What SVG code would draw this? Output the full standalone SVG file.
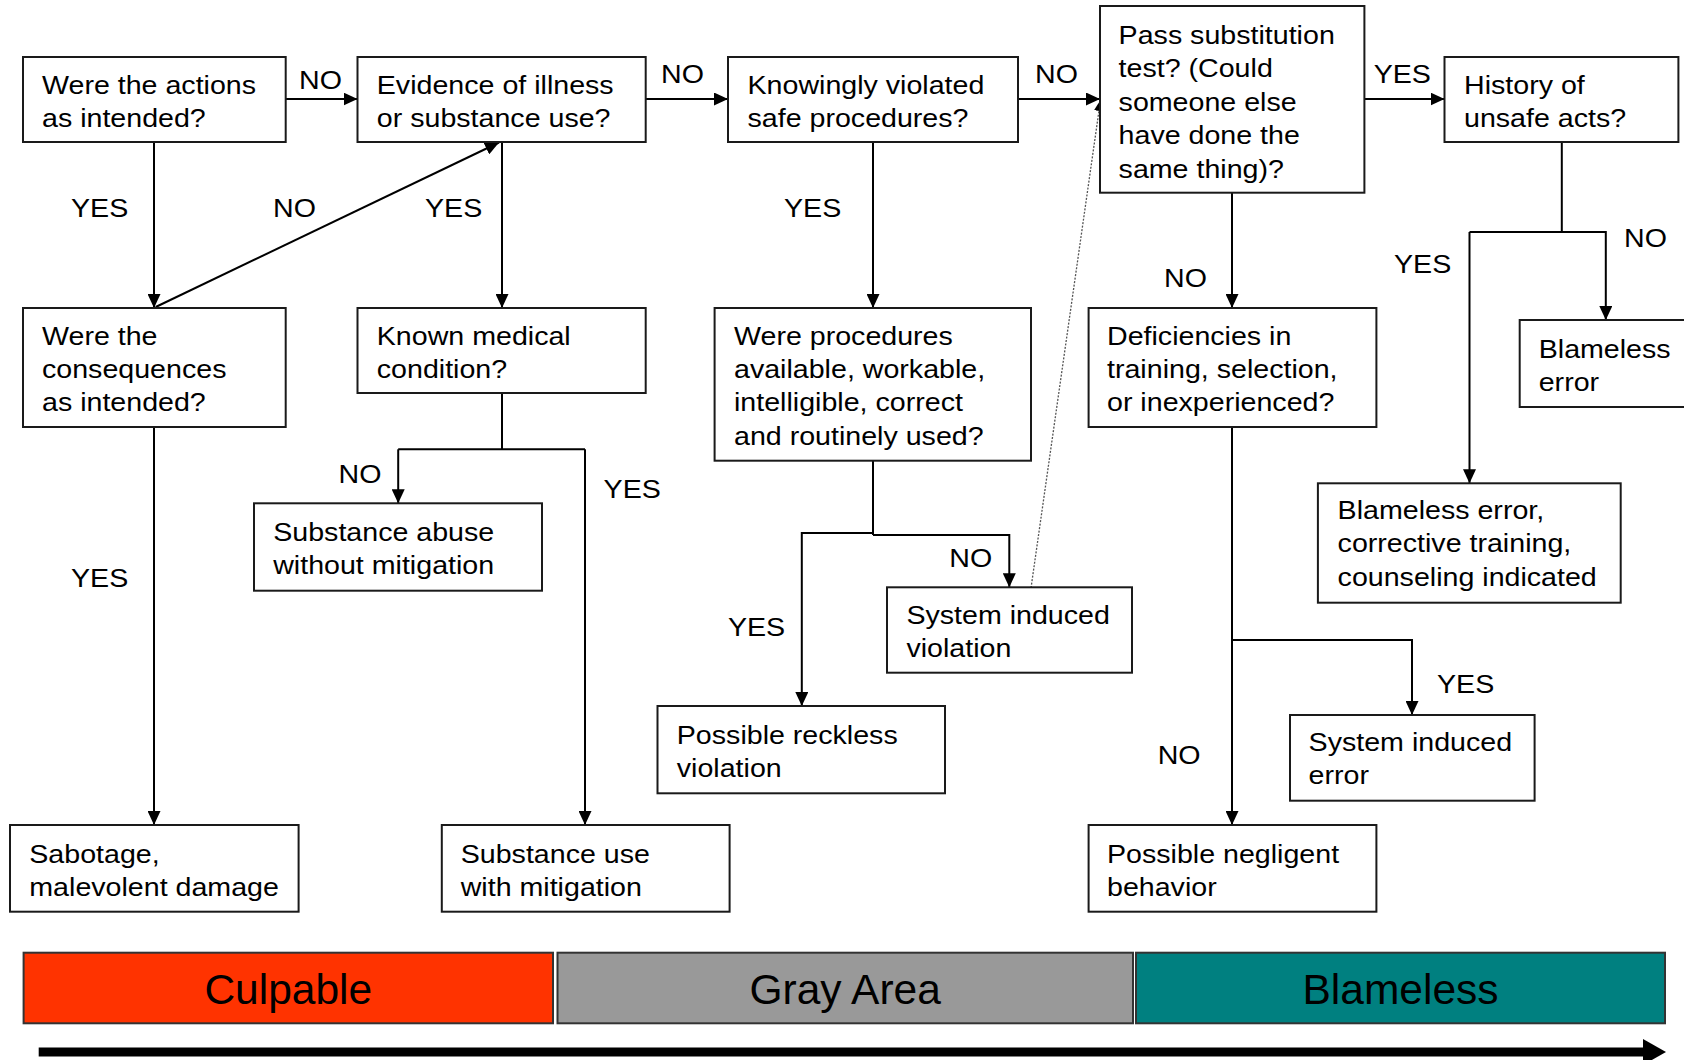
<svg xmlns="http://www.w3.org/2000/svg" width="1684" height="1060" viewBox="0 0 1684 1060">
<style>
.box{fill:#fff;stroke:#1a1a1a;stroke-width:2}
.t{font-family:"Liberation Sans",Arial,sans-serif;font-size:26px;fill:#000}
.c{fill:none;stroke:#000;stroke-width:2}
.big{font-family:"Liberation Sans",Arial,sans-serif;font-size:42.5px;fill:#000;text-anchor:middle}
.band{stroke:#333;stroke-width:2}
</style>
<defs>
<marker id="ah" markerUnits="userSpaceOnUse" markerWidth="14" markerHeight="13" refX="14" refY="6.5" orient="auto">
<path d="M0,0 L14,6.5 L0,13 z" fill="#000"/>
</marker>
<marker id="ahs" markerUnits="userSpaceOnUse" markerWidth="11" markerHeight="10" refX="11" refY="5" orient="auto">
<path d="M0,0 L11,5 L0,10 z" fill="#000"/>
</marker>
</defs>
<rect width="1684" height="1060" fill="#fff"/>

<g id="connectors">
<path class="c" d="M285.7,99 H357.5" marker-end="url(#ah)"/>
<path class="c" d="M645.7,99 H728" marker-end="url(#ah)"/>
<path class="c" d="M1018,99 H1100" marker-end="url(#ah)"/>
<path class="c" d="M1364.4,99 H1444.5" marker-end="url(#ah)"/>
<path class="c" d="M154,142 V308" marker-end="url(#ah)"/>
<path class="c" d="M155.7,307 L499,142.5" marker-end="url(#ah)"/>
<path class="c" d="M502,142 V308" marker-end="url(#ah)"/>
<path class="c" d="M873,142 V308" marker-end="url(#ah)"/>
<path class="c" d="M1232,193 V308" marker-end="url(#ah)"/>
<path class="c" d="M1561.8,142 V232"/>
<path class="c" d="M1469.5,232 V483.3" marker-end="url(#ah)"/>
<path class="c" d="M1469.5,232 H1605.8 V320" marker-end="url(#ah)"/>
<path class="c" d="M154,427 V825" marker-end="url(#ah)"/>
<path class="c" d="M502,393 V449.3"/>
<path class="c" d="M398.2,449.3 H585"/>
<path class="c" d="M398.2,449.3 V503.3" marker-end="url(#ah)"/>
<path class="c" d="M585,449.3 V825" marker-end="url(#ah)"/>
<path class="c" d="M873,460.7 V535"/>
<path class="c" d="M873,533 H801.8 V706" marker-end="url(#ah)"/>
<path class="c" d="M873,535 H1009.3 V587.3" marker-end="url(#ah)"/>
<path class="c" d="M1232,427 V825" marker-end="url(#ah)"/>
<path class="c" d="M1232,640 H1412 V715" marker-end="url(#ah)"/>
<path d="M1031,588 L1100.5,100" fill="none" stroke="#555" stroke-width="1.3" stroke-dasharray="2,1.5" marker-end="url(#ahs)"/>
</g>

<g id="labels">
<text class="t" transform="translate(299 89) scale(1.1 1)">NO</text>
<text class="t" transform="translate(661 83) scale(1.1 1)">NO</text>
<text class="t" transform="translate(1035 83) scale(1.1 1)">NO</text>
<text class="t" transform="translate(1373.7 83) scale(1.1 1)">YES</text>
<text class="t" transform="translate(71 216.7) scale(1.1 1)">YES</text>
<text class="t" transform="translate(273 216.7) scale(1.1 1)">NO</text>
<text class="t" transform="translate(425 216.7) scale(1.1 1)">YES</text>
<text class="t" transform="translate(784 216.7) scale(1.1 1)">YES</text>
<text class="t" transform="translate(1164 287) scale(1.1 1)">NO</text>
<text class="t" transform="translate(1394 273) scale(1.1 1)">YES</text>
<text class="t" transform="translate(1624 247) scale(1.1 1)">NO</text>
<text class="t" transform="translate(338.6 483) scale(1.1 1)">NO</text>
<text class="t" transform="translate(603.6 497.7) scale(1.1 1)">YES</text>
<text class="t" transform="translate(71 586.7) scale(1.1 1)">YES</text>
<text class="t" transform="translate(949.3 567.3) scale(1.1 1)">NO</text>
<text class="t" transform="translate(727.9 636) scale(1.1 1)">YES</text>
<text class="t" transform="translate(1437 693) scale(1.1 1)">YES</text>
<text class="t" transform="translate(1157.7 764) scale(1.1 1)">NO</text>
</g>

<g id="nodeA">
<rect class="box" x="23" y="57" width="262.7" height="85"/>
<text class="t" transform="translate(42 94) scale(1.1 1)"><tspan x="0" y="0">Were the actions</tspan><tspan x="0" y="33.5">as intended?</tspan></text>
</g>
<g id="nodeB">
<rect class="box" x="357.5" y="57" width="288.2" height="85"/>
<text class="t" transform="translate(376.8 94) scale(1.1 1)"><tspan x="0" y="0">Evidence of illness</tspan><tspan x="0" y="33.5">or substance use?</tspan></text>
</g>
<g id="nodeE">
<rect class="box" x="728" y="57" width="290" height="85"/>
<text class="t" transform="translate(747.5 94) scale(1.1 1)"><tspan x="0" y="0">Knowingly violated</tspan><tspan x="0" y="33.5">safe procedures?</tspan></text>
</g>
<g id="nodeF">
<rect class="box" x="1100" y="6" width="264.4" height="186.7"/>
<text class="t" transform="translate(1118.6 44) scale(1.1 1)"><tspan x="0" y="0">Pass substitution</tspan><tspan x="0" y="33.5">test? (Could</tspan><tspan x="0" y="67">someone else</tspan><tspan x="0" y="100.5">have done the</tspan><tspan x="0" y="134">same thing)?</tspan></text>
</g>
<g id="nodeI">
<rect class="box" x="1444.5" y="57" width="233.9" height="85"/>
<text class="t" transform="translate(1464 94) scale(1.1 1)"><tspan x="0" y="0">History of</tspan><tspan x="0" y="33.5">unsafe acts?</tspan></text>
</g>
<g id="nodeC">
<rect class="box" x="23" y="308" width="262.7" height="119"/>
<text class="t" transform="translate(42 344.5) scale(1.1 1)"><tspan x="0" y="0">Were the</tspan><tspan x="0" y="33.5">consequences</tspan><tspan x="0" y="67">as intended?</tspan></text>
</g>
<g id="nodeD">
<rect class="box" x="357.5" y="308" width="288.2" height="85"/>
<text class="t" transform="translate(376.8 344.5) scale(1.1 1)"><tspan x="0" y="0">Known medical</tspan><tspan x="0" y="33.5">condition?</tspan></text>
</g>
<g id="nodeG">
<rect class="box" x="714.6" y="308" width="316.4" height="152.7"/>
<text class="t" transform="translate(734 344.5) scale(1.1 1)"><tspan x="0" y="0">Were procedures</tspan><tspan x="0" y="33.5">available, workable,</tspan><tspan x="0" y="67">intelligible, correct</tspan><tspan x="0" y="100.5">and routinely used?</tspan></text>
</g>
<g id="nodeH">
<rect class="box" x="1088.6" y="308" width="287.8" height="119"/>
<text class="t" transform="translate(1107 344.5) scale(1.1 1)"><tspan x="0" y="0">Deficiencies in</tspan><tspan x="0" y="33.5">training, selection,</tspan><tspan x="0" y="67">or inexperienced?</tspan></text>
</g>
<g id="nodeJ">
<rect class="box" x="1519.7" y="320" width="175" height="87"/>
<text class="t" transform="translate(1538.7 357.5) scale(1.1 1)"><tspan x="0" y="0">Blameless</tspan><tspan x="0" y="33.5">error</tspan></text>
</g>
<g id="nodeO">
<rect class="box" x="254" y="503.3" width="288" height="87.4"/>
<text class="t" transform="translate(273.2 541) scale(1.1 1)"><tspan x="0" y="0">Substance abuse</tspan><tspan x="0" y="33.5">without mitigation</tspan></text>
</g>
<g id="nodeR">
<rect class="box" x="887" y="587.3" width="245" height="85.4"/>
<text class="t" transform="translate(906.4 623.5) scale(1.1 1)"><tspan x="0" y="0">System induced</tspan><tspan x="0" y="33.5">violation</tspan></text>
</g>
<g id="nodeK">
<rect class="box" x="1317.9" y="483.3" width="302.8" height="119.4"/>
<text class="t" transform="translate(1337.6 519) scale(1.1 1)"><tspan x="0" y="0">Blameless error,</tspan><tspan x="0" y="33.5">corrective training,</tspan><tspan x="0" y="67">counseling indicated</tspan></text>
</g>
<g id="nodeQ">
<rect class="box" x="657.5" y="706" width="287.5" height="87.3"/>
<text class="t" transform="translate(676.8 744) scale(1.1 1)"><tspan x="0" y="0">Possible reckless</tspan><tspan x="0" y="33.5">violation</tspan></text>
</g>
<g id="nodeM">
<rect class="box" x="1290" y="715" width="244.6" height="85.7"/>
<text class="t" transform="translate(1308.6 750.7) scale(1.1 1)"><tspan x="0" y="0">System induced</tspan><tspan x="0" y="33.5">error</tspan></text>
</g>
<g id="nodeN">
<rect class="box" x="10" y="825" width="288.6" height="86.7"/>
<text class="t" transform="translate(29.3 862.5) scale(1.1 1)"><tspan x="0" y="0">Sabotage,</tspan><tspan x="0" y="33.5">malevolent damage</tspan></text>
</g>
<g id="nodeP">
<rect class="box" x="441.8" y="825" width="287.8" height="86.7"/>
<text class="t" transform="translate(460.7 862.5) scale(1.1 1)"><tspan x="0" y="0">Substance use</tspan><tspan x="0" y="33.5">with mitigation</tspan></text>
</g>
<g id="nodeL">
<rect class="box" x="1088.6" y="825" width="287.8" height="86.7"/>
<text class="t" transform="translate(1107 862.5) scale(1.1 1)"><tspan x="0" y="0">Possible negligent</tspan><tspan x="0" y="33.5">behavior</tspan></text>
</g>

<g id="scale">
<rect class="band" x="23.6" y="952.7" width="529.4" height="70.6" fill="#FF3300"/>
<rect class="band" x="557.5" y="952.7" width="575.5" height="70.6" fill="#999999"/>
<rect class="band" x="1136" y="952.7" width="529" height="70.6" fill="#008080"/>
<text class="big" x="288.3" y="1004">Culpable</text>
<text class="big" x="845.2" y="1004">Gray Area</text>
<text class="big" x="1400.5" y="1004">Blameless</text>
<path d="M38.7,1052 H1646" stroke="#000" stroke-width="9" fill="none"/>
<polygon points="1643,1039 1666,1052 1643,1065" fill="#000"/>
</g>
</svg>
